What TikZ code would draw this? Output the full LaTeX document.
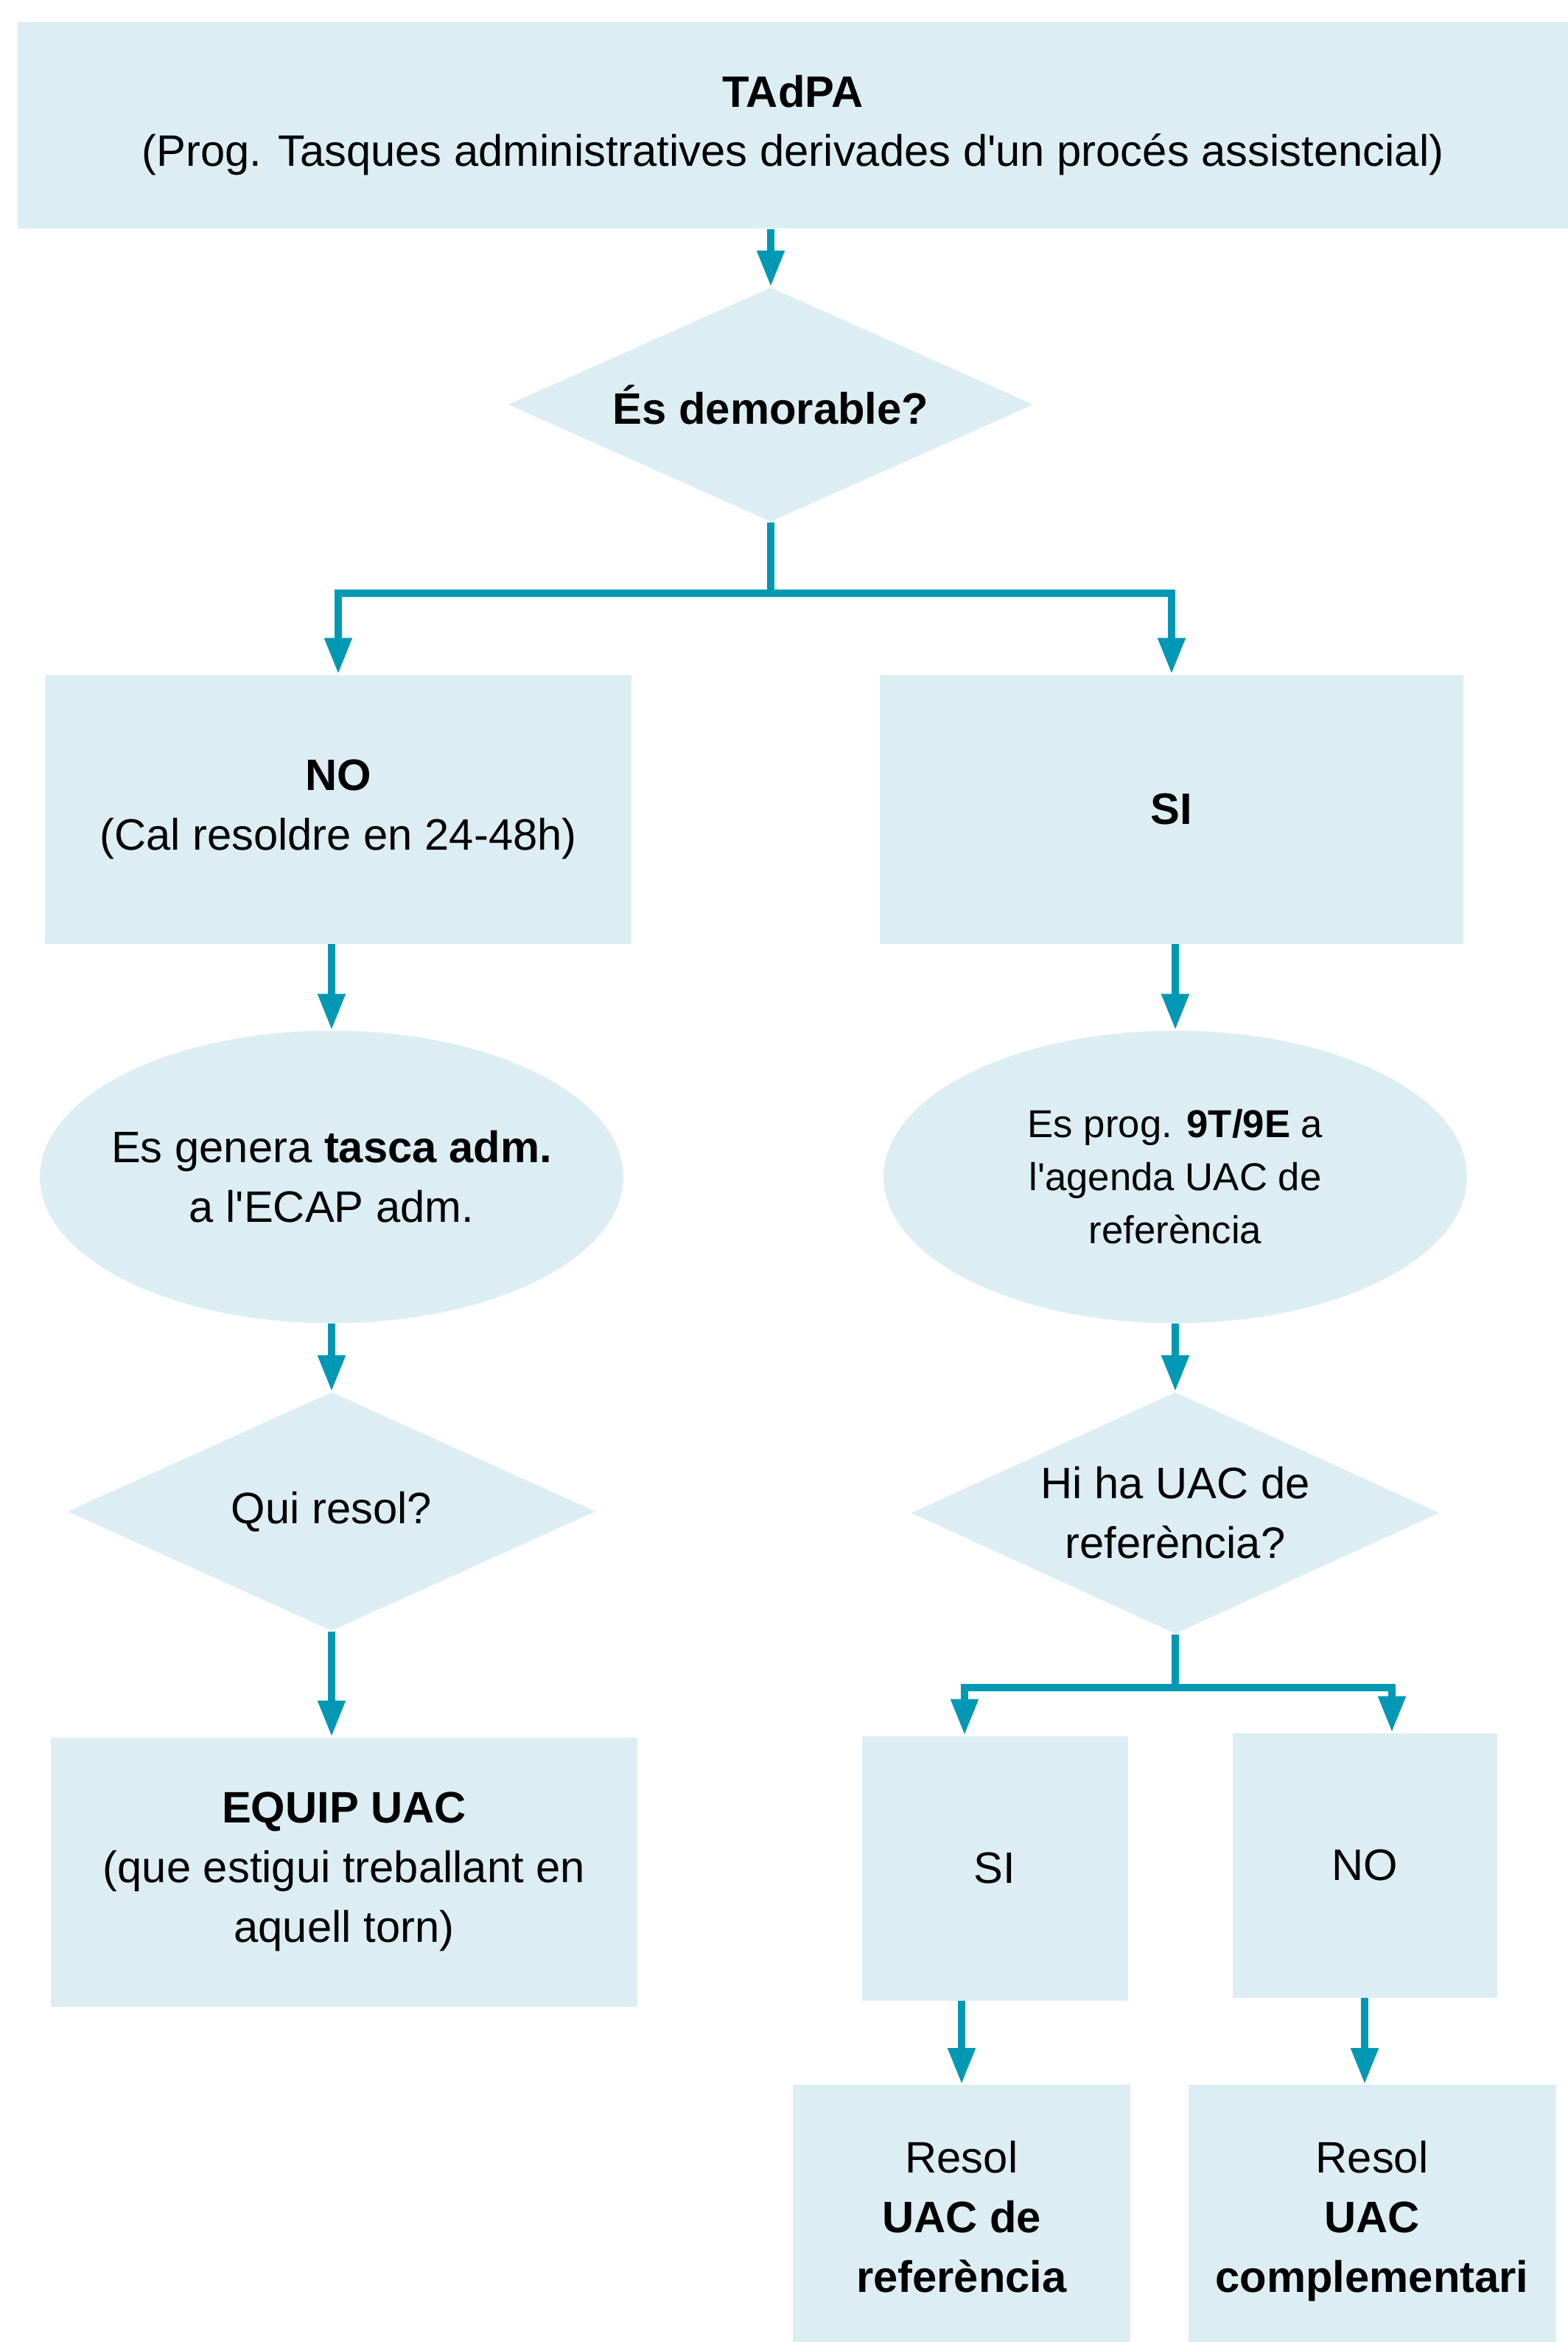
\documentclass[tikz,border=0pt]{standalone}
\usepackage{fontspec}
\setmainfont{Liberation Sans}[Ligatures=TeXOff]
\usetikzlibrary{shapes.geometric,arrows.meta}
\definecolor{boxblue}{RGB}{220,238,244}
\definecolor{arrowteal}{RGB}{0,152,180}

\begin{document}
\begin{tikzpicture}[
    box/.style={rectangle,fill=boxblue,align=center,inner sep=0pt},
    decision/.style={diamond,fill=boxblue,align=center,inner sep=0pt,shape aspect=2.2},
    oval/.style={ellipse,fill=boxblue,align=center,inner sep=-0.3cm},
    link/.style={draw=arrowteal,line width=3pt},
    arr/.style={link,-{Triangle[width=10pt,length=14pt]}},
    font=\fontsize{17}{23}\selectfont]
    \useasboundingbox(0,0)rectangle(21.28,-31.78);

    % boxes, from top to bottom
    \node[box,minimum width=21.04cm,minimum height=2.8cm](top)at(10.76,-1.70)
        {\textbf{TAdPA}\\(Prog. Tasques administratives derivades d'un procés assistencial)};
    \node[decision,minimum width=7.13cm,minimum height=3.18cm](q1)at(10.46,-5.49){\textbf{És demorable?}};
    \node[box,minimum width=7.96cm,minimum height=3.65cm](no)at(4.59,-10.98){\textbf{NO}\\(Cal resoldre en 24-48h)};
    \node[box,minimum width=7.92cm,minimum height=3.65cm](si)at(15.90,-10.98){\textbf{SI}};
    \node[oval,minimum width=7.92cm,minimum height=3.97cm](gen)at(4.50,-15.97){Es genera \textbf{tasca adm.}\\a l'ECAP adm.};
    \node[oval,minimum width=7.92cm,minimum height=3.97cm,font=\fontsize{15}{20.5}\selectfont](prog)at(15.95,-15.97)
        {Es prog. \textbf{9T/9E} a\\l'agenda UAC de\\referència};
    \node[decision,minimum width=7.17cm,minimum height=3.24cm](q2)at(4.50,-20.51){Qui resol?};
    \node[decision,minimum width=7.17cm,minimum height=3.28cm](q3)at(15.95,-20.53){Hi ha UAC de\\referència?};
    \node[box,minimum width=7.96cm,minimum height=3.65cm](equip)at(4.67,-25.40)
        {\textbf{EQUIP UAC}\\(que estigui treballant en\\aquell torn)};
    \node[box,minimum width=3.61cm,minimum height=3.59cm](sis)at(13.50,-25.35){SI};
    \node[box,minimum width=3.59cm,minimum height=3.59cm](nos)at(18.52,-25.31){NO};
    \node[box,minimum width=4.58cm,minimum height=3.58cm](res1)at(13.05,-30.08){Resol\\\textbf{UAC de}\\\textbf{referència}};
    \node[box,minimum width=4.99cm,minimum height=3.58cm,text depth=0pt](res2)at(18.62,-30.08){Resol\\\textbf{UAC}\\\textbf{complementari}};

    % branch points
    \coordinate(split1)at(10.46,-8.05);
    \coordinate(split2)at(15.95,-22.90);

    % connectors
    \draw[arr](q1.north|-top.south)--(q1.north);
    \draw[link](q1.south)--(split1);
    \draw[arr](split1)-|(no.north);
    \draw[arr](split1)-|(si.north);
    \draw[arr](no.south-|gen.north)--(gen.north);
    \draw[arr](si.south-|prog.north)--(prog.north);
    \draw[arr](gen.south)--(q2.north);
    \draw[arr](prog.south)--(q3.north);
    \draw[arr](q2.south)--(q2.south|-equip.north);
    \draw[link](q3.south)--(split2);
    \draw[arr](split2)-|([xshift=-0.41cm]sis.north);
    \draw[arr](split2)-|([xshift=0.37cm]nos.north);
    \draw[arr](res1.north|-sis.south)--(res1.north);
    \draw[arr](nos.south)--(nos.south|-res2.north);
\end{tikzpicture}
\end{document}
